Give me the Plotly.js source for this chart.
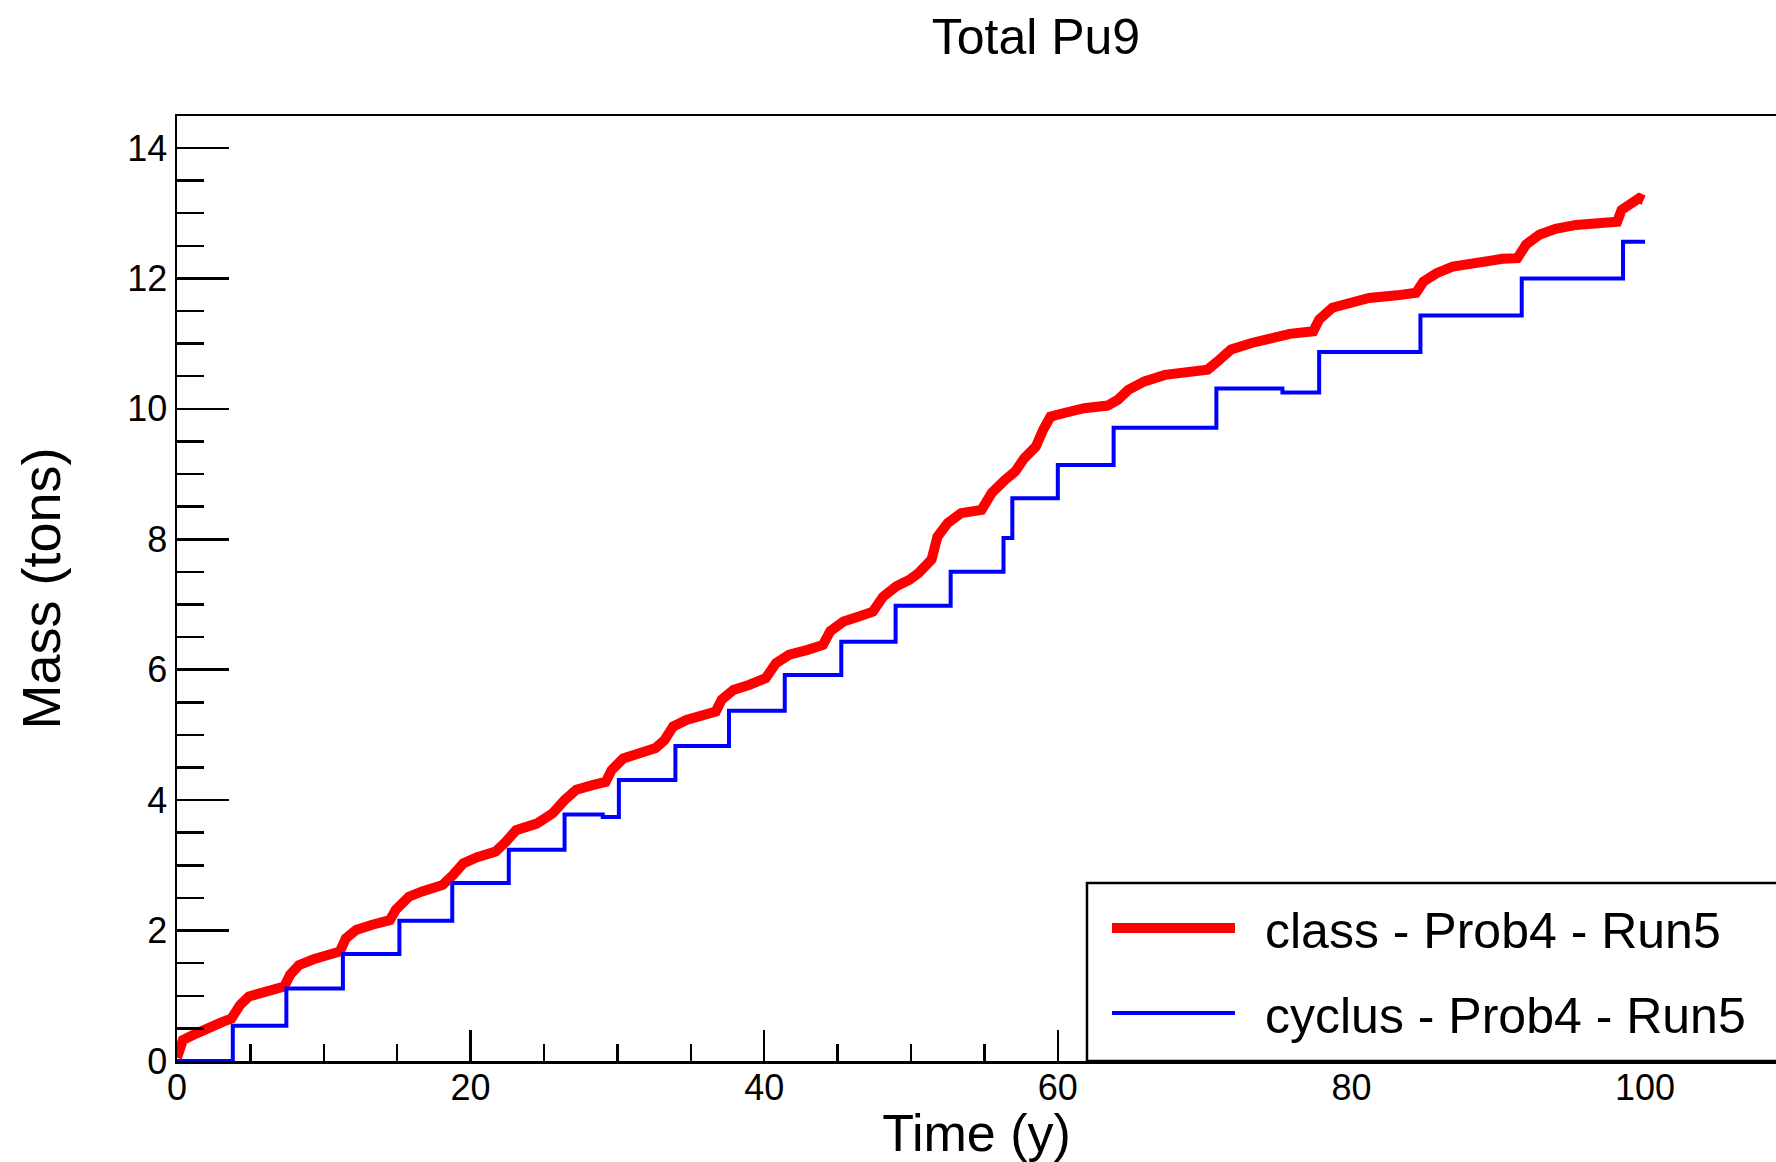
<!DOCTYPE html>
<html>
<head>
<meta charset="utf-8">
<script src="https://cdn.plot.ly/plotly-3.0.1.min.js"></script>
<style>
  html, body { margin: 0; padding: 0; background: #ffffff; }
  #chart { width: 1776px; height: 1162px; }
</style>
</head>
<body>
<div id="chart"></div>
<script>
// ---- Data ----
const chartTitle = "Total Pu9";
const xTitle = "Time (y)";
const yTitle = "Mass (tons)";

const className = "class - Prob4 - Run5";
const classTime = [0, 0.4, 1.3, 2.2, 3.1, 3.7, 4.3, 4.9, 5.8, 6.8, 7.3, 7.7, 8.3, 9.3, 10.4, 11.1, 11.5, 12.2, 13.3, 14.5,
  14.9, 15.8, 16.7, 18.1, 18.8, 19.5, 20.4, 21.7, 22.4, 23.1, 24.5, 25.6, 26.4, 27.2, 28.3, 29.2, 29.6, 30.4, 31.5, 32.6,
  33.2, 33.8, 34.7, 35.8, 36.7, 37.1, 37.9, 39.0, 40.1, 40.8, 41.7, 42.9, 44.0, 44.5, 45.4, 46.5, 47.4, 48.1, 49.0, 49.9,
  50.5, 51.4, 51.8, 52.5, 53.4, 54.8, 55.5, 56.4, 57.1, 57.7, 58.5, 59.0, 59.5, 60.5, 61.8, 63.4, 64.1, 64.8, 65.9, 67.3,
  68.9, 70.2, 70.9, 71.8, 73.2, 74.5, 75.8, 77.4, 77.8, 78.7, 79.9, 81.2, 83.1, 84.4, 84.9, 85.8, 86.9, 88.5, 90.3, 91.3,
  91.9, 92.8, 93.9, 95.3, 97.1, 98.1, 98.4, 99.0, 99.6, 99.9];
const classMass = [0.05, 0.32, 0.42, 0.53, 0.60, 0.65, 0.86, 0.99, 1.04, 1.09, 1.14, 1.32, 1.47, 1.56, 1.61, 1.68, 1.88, 2.01, 2.09, 2.16,
  2.32, 2.52, 2.60, 2.70, 2.85, 3.03, 3.12, 3.21, 3.36, 3.54, 3.64, 3.80, 4.00, 4.16, 4.23, 4.28, 4.46, 4.64, 4.72, 4.80,
  4.92, 5.13, 5.23, 5.29, 5.36, 5.54, 5.69, 5.77, 5.87, 6.10, 6.23, 6.30, 6.38, 6.59, 6.74, 6.82, 6.89, 7.12, 7.28, 7.38,
  7.48, 7.69, 8.04, 8.25, 8.40, 8.45, 8.71, 8.91, 9.04, 9.24, 9.42, 9.68, 9.88, 9.94, 10.01, 10.05, 10.14, 10.29, 10.42, 10.52,
  10.57, 10.60, 10.73, 10.91, 11.01, 11.10, 11.15, 11.19, 11.37, 11.55, 11.62, 11.70, 11.74, 11.78, 11.95, 12.08, 12.18, 12.25, 12.30, 12.31,
  12.52, 12.67, 12.76, 12.82, 12.86, 12.87, 13.05, 13.13, 13.23, 13.20];

const cyclusName = "cyclus - Prob4 - Run5";
const cyclusTime = [0, 3.8, 7.45, 11.3, 15.15, 18.75, 22.6, 26.4, 29.0, 30.1, 33.95, 37.6, 41.4, 45.25, 48.95, 52.7,
  56.3, 56.9, 60.0, 63.8, 70.8, 75.3, 77.8, 84.7, 91.6, 98.5, 100];
const cyclusMass = [0, 0.54, 1.11, 1.64, 2.15, 2.73, 3.24, 3.78, 3.74, 4.31, 4.83, 5.37, 5.92, 6.43, 6.98, 7.50,
  8.02, 8.63, 9.14, 9.71, 10.31, 10.25, 10.87, 11.43, 12.0, 12.56, 12.56];

const xRange = [0, 108.92];
const yRange = [0, 14.49];

// ---- Figure ----
const FONT = '"Liberation Sans", Arial, Helvetica, sans-serif';
const LEGEND_GAP = '\u2002';

const traces = [
  {
    type: 'scatter', mode: 'lines', name: LEGEND_GAP + className,
    x: classTime, y: classMass,
    line: { color: '#ff0000', width: 10 },
    legendgroup: 'a'
  },
  {
    type: 'scatter', mode: 'lines', name: LEGEND_GAP + cyclusName,
    x: cyclusTime, y: cyclusMass,
    line: { color: '#0000ff', width: 4, shape: 'hv' },
    legendgroup: 'b'
  }
];

const layout = {
  width: 1776, height: 1162,
  paper_bgcolor: '#ffffff', plot_bgcolor: '#ffffff',
  margin: { l: 177, r: 0, t: 116, b: 101, pad: 0 },
  font: { family: FONT, color: '#000000' },
  title: {
    text: chartTitle, xref: 'container', yref: 'container',
    x: 0.5833, xanchor: 'center', y: 0.969, yanchor: 'middle',
    font: { family: FONT, size: 50, color: '#000000' }
  },
  xaxis: {
    range: xRange, showgrid: false, zeroline: false,
    showline: true, linecolor: '#000000', linewidth: 2.5, mirror: true,
    ticks: 'inside', ticklen: 31, tickwidth: 2.5, tickcolor: '#000000',
    tick0: 0, dtick: 20,
    minor: { dtick: 5, tick0: 0, ticks: 'inside', ticklen: 17, tickwidth: 2.5, tickcolor: '#000000', showgrid: false },
    tickfont: { family: FONT, size: 36, color: '#000000' },
    ticklabelstandoff: -7,
    automargin: false,
    title: { text: xTitle, font: { family: FONT, size: 52, color: '#000000' }, standoff: 13 }
  },
  yaxis: {
    range: yRange, showgrid: false, zeroline: false,
    showline: true, linecolor: '#000000', linewidth: 2.5,
    ticks: 'inside', ticklen: 52, tickwidth: 2.5, tickcolor: '#000000',
    tick0: 0, dtick: 2,
    minor: { dtick: 0.5, tick0: 0, ticks: 'inside', ticklen: 27, tickwidth: 2.5, tickcolor: '#000000', showgrid: false },
    tickfont: { family: FONT, size: 36, color: '#000000' },
    ticklabelstandoff: 0,
    automargin: false,
    title: { text: yTitle, font: { family: FONT, size: 54, color: '#000000' }, standoff: 50 }
  },
  showlegend: true,
  legend: {
    x: 0.5816, xanchor: 'left', y: 0.182, yanchor: 'top',
    xref: 'paper', yref: 'paper',
    bgcolor: 'rgba(0,0,0,0)', borderwidth: 0,
    font: { family: FONT, size: 50, color: '#000000' },
    itemwidth: 123, traceorder: 'grouped', tracegroupgap: 17
  },
  shapes: [
    {
      type: 'rect', xref: 'paper', yref: 'paper',
      x0: 0.5691, x1: 1.05, y0: 0, y1: 0.1884,
      line: { color: '#000000', width: 2.5 }, fillcolor: '#ffffff', layer: 'above'
    }
  ]
};

Plotly.newPlot('chart', traces, layout, { staticPlot: true, displayModeBar: false });
</script>
</body>
</html>
